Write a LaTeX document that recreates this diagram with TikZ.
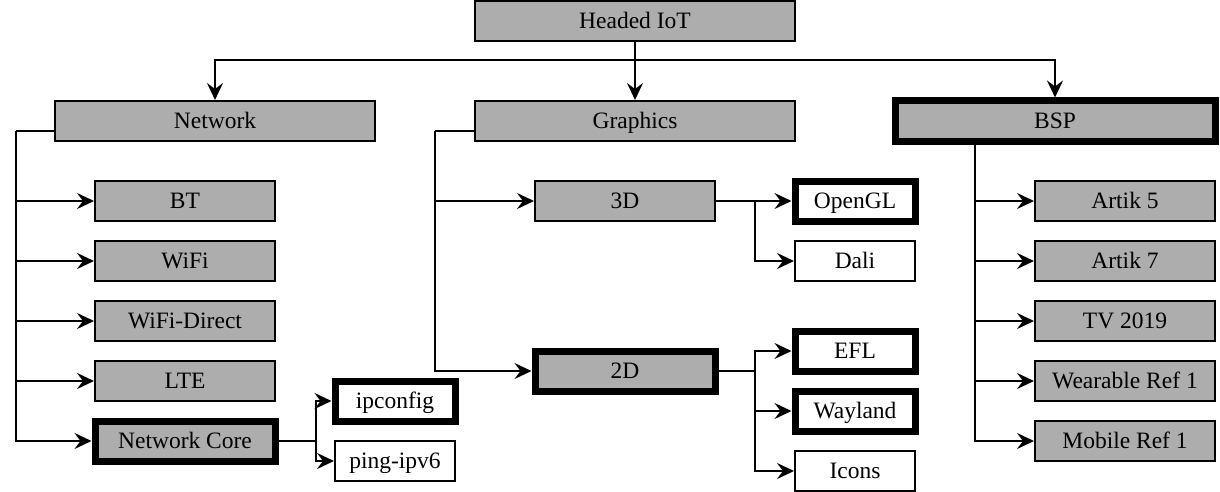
\documentclass[tikz,border=0pt]{standalone}
\usepackage{fontspec}
\setmainfont{Liberation Serif}
\usetikzlibrary{arrows.meta}
\begin{document}
\begin{tikzpicture}[x=1pt,y=-1pt,
  font=\fontsize{23.5}{28}\selectfont,
  box/.style={draw,line width=2pt,fill=boxgray,minimum height=40pt,inner sep=0pt,text height=18pt,text depth=3pt},
  leaf/.style={draw,line width=2pt,fill=white,minimum width=120pt,minimum height=40pt,inner sep=0pt,text height=18pt,text depth=3pt},
  heavy/.style={line width=7pt},
  wide/.style={minimum width=320pt},
  mid/.style={minimum width=180pt},
  link/.style={line width=2pt,-{Stealth[length=17pt,width=16pt,inset=6pt]}},
  plain/.style={line width=2pt}]
\definecolor{boxgray}{RGB}{173,173,173}
\useasboundingbox (0,0) rectangle (1220,492);

\node (iot) [box,wide] at (635,21) {Headed IoT};
\node (network) [box,wide] at (215,121) {Network};
\node (graphics) [box,wide] at (635,121) {Graphics};
\node (bsp) [box,wide,heavy] at (1055,121) {BSP};

\node (bt) [box,mid] at (185,201) {BT};
\node (wifi) [box,mid] at (185,261) {WiFi};
\node (wifidirect) [box,mid] at (185,321) {WiFi-Direct};
\node (lte) [box,mid] at (185,381) {LTE};
\node (netcore) [box,mid,heavy] at (185,441) {Network Core};
\node (ipconfig) [leaf,heavy] at (395,401) {ipconfig};
\node (ping) [leaf] at (395,461) {ping-ipv6};

\node (threed) [box,mid] at (625,201) {3D};
\node (twod) [box,mid,heavy] at (625,371) {2D};
\node (opengl) [leaf,heavy] at (855,201) {OpenGL};
\node (dali) [leaf] at (855,261) {Dali};
\node (efl) [leaf,heavy] at (855,351) {EFL};
\node (wayland) [leaf,heavy] at (855,411) {Wayland};
\node (icons) [leaf] at (855,471) {Icons};

\node (artik5) [box,mid] at (1125,201) {Artik 5};
\node (artik7) [box,mid] at (1125,261) {Artik 7};
\node (tv) [box,mid] at (1125,321) {TV 2019};
\node (wearable) [box,mid] at (1125,381) {Wearable Ref 1};
\node (mobile) [box,mid] at (1125,441) {Mobile Ref 1};

\coordinate (top) at (635,60);
\coordinate (netspine) at (16,131);
\coordinate (gfxspine) at (435,131);
\coordinate (bspspine) at (975,0);
\coordinate (coresplit) at (316,0);
\coordinate (threedsplit) at (755,0);
\coordinate (twodsplit) at (755,0);

\draw[plain] (iot.south) -- (top);
\draw[link] (top) -| (network.north);
\draw[link] (top) -| (bsp.north);
\draw[link] (top) -- (graphics.north);

\draw[plain] (network.west |- netspine) -- (netspine);
\draw[link] (netspine) |- (bt.west);
\draw[link] (netspine) |- (wifi.west);
\draw[link] (netspine) |- (wifidirect.west);
\draw[link] (netspine) |- (lte.west);
\draw[link] (netspine) |- (netcore.west);

\draw[plain] (netcore.east) -- (netcore.east -| coresplit);
\draw[link] (netcore.east -| coresplit) |- (ipconfig.west);
\draw[link] (netcore.east -| coresplit) |- (ping.west);

\draw[plain] (graphics.west |- gfxspine) -- (gfxspine);
\draw[link] (gfxspine) |- (threed.west);
\draw[link] (gfxspine) |- (twod.west);

\draw[link] (threed.east) -- (opengl.west);
\draw[link] (threed.east -| threedsplit) |- (dali.west);

\draw[plain] (twod.east) -- (twod.east -| twodsplit);
\draw[link] (twod.east -| twodsplit) |- (efl.west);
\draw[link] (twod.east -| twodsplit) |- (wayland.west);
\draw[link] (twod.east -| twodsplit) |- (icons.west);

\draw[link] (bsp.south -| bspspine) |- (artik5.west);
\draw[link] (bsp.south -| bspspine) |- (artik7.west);
\draw[link] (bsp.south -| bspspine) |- (tv.west);
\draw[link] (bsp.south -| bspspine) |- (wearable.west);
\draw[link] (bsp.south -| bspspine) |- (mobile.west);
\end{tikzpicture}
\end{document}
